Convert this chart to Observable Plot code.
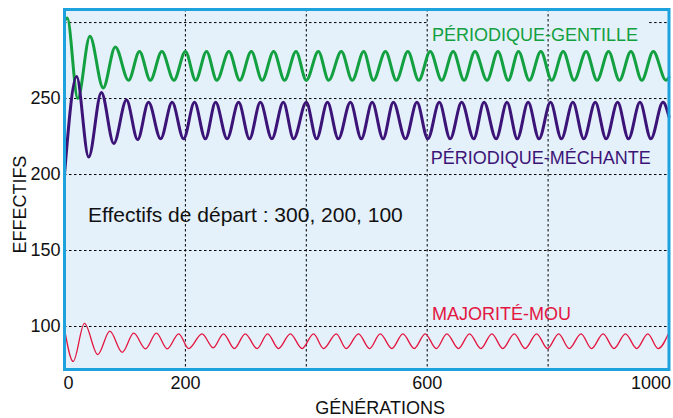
<!DOCTYPE html>
<html>
<head>
<meta charset="utf-8">
<script src="https://cdn.jsdelivr.net/npm/d3@7"></script>
<script src="https://cdn.jsdelivr.net/npm/@observablehq/plot@0.6"></script>
<style>
  html, body { margin: 0; padding: 0; background: #ffffff; }
  svg { font-family: "Liberation Sans", Arial, sans-serif; }
</style>
</head>
<body>
<div id="chart"></div>
<script>
// Extrema: [generation, effectif]
const gentille = [[0,301],[4.5,303],[22,250],[42,291],[64,257],[84,284],[106,262],[124,281],[142,262],[161,281],[181,262],[200,281],[217,262],[235,281],[252,262],[272,281],[290,262],[309,281],[327,262],[346,281],[364,262],[383,281],[400,262],[420,281],[437,262],[458,281],[476,262],[495,281],[511,262],[531,281],[549,262],[568,281],[586,262],[605,281],[624,262],[643,281],[661,262],[679,281],[699,262],[717,281],[734,262],[751,281],[769,262],[788,281],[806,262],[825,281],[843,262],[863,281],[881,262],[900,281],[918,262],[937,281],[955,262],[974,281],[995,262],[1000,264]];
const mechante = [[0,200],[20,264.5],[40,211.5],[61,254],[81.5,220.5],[102.5,249],[121,223],[139,247.5],[159,223.5],[178,247.5],[197,223.5],[215,247.5],[233,223.5],[250,247.5],[269,223.5],[288,247.5],[306,223.5],[324,247.5],[343,223.5],[362,247.5],[379,223.5],[400,247.5],[417,223.5],[435,247.5],[453,223.5],[473,247.5],[491,223.5],[509,247.5],[527,223.5],[544,247.5],[564,223.5],[583,247.5],[601,223.5],[620,247.5],[638,223.5],[657,247.5],[677,223.5],[694,247.5],[714,223.5],[732,247.5],[749,223.5],[767,247.5],[785,223.5],[804,247.5],[822,223.5],[841,247.5],[859,223.5],[878,247.5],[896,223.5],[915,247.5],[933,223.5],[952,247.5],[970,223.5],[990,247.5],[1000,238]];
const mou = [[0,98.5],[14.4,77],[33,102],[55,81.5],[75,97],[95.5,83],[114.5,95.6],[134,85.3],[152,95.6],[170,85.3],[189,95.2],[205.5,85.5],[227.5,95.2],[246,86],[263,95.2],[281,85.5],[299,95.2],[318.5,85.5],[336,95.2],[354,85.5],[373.6,95.2],[393,85.5],[412,95.2],[428.6,85.5],[449.6,95.2],[466,85.5],[486.4,95.2],[504.6,85.5],[522.3,95.2],[541.6,85.5],[559.8,95.2],[578.5,85.5],[596.7,95.2],[615,85.5],[632.5,95.2],[651.7,85.5],[670,95.2],[688.8,85.5],[707,95.2],[725,85.5],[744,95.2],[762,85.5],[781,95.2],[799,85.5],[817.5,95.2],[835,85.5],[854.5,95.2],[872,85.5],[891,95.2],[909,85.5],[928,95.2],[946.6,85.5],[965,95.2],[982,85.5],[1000,96]];

const seriesNames = ["PÉRIODIQUE-GENTILLE", "PÉRIODIQUE-MÉCHANTE", "MAJORITÉ-MOU"];
const yTicks = [100, 150, 200, 250];
const yGrid = [100, 150, 200, 250];
const yTopGrid = [300];
const xGrid = [200, 400, 600, 800];
const xTickStart = [0];
const xTickMiddle = [200, 600];
const xTickEnd = [1000];
const note = "Effectifs de départ : 300, 200, 100";
const xTitle = "GÉNÉRATIONS";
const yTitle = "EFFECTIFS";

const GREEN = "#12a040", PURPLE = "#3c1478", RED = "#e3163f";
const FRAME = "#1ea2de", BG = "#e4f0fa";

const toRows = arr => arr.map(([g, v]) => ({g, v}));
const fmt = d => String(d);
const grid = {stroke: "#000", strokeOpacity: 1, strokeDasharray: "2.5,2.5", strokeWidth: 1};

const chart = Plot.plot({
  width: 673,
  height: 418,
  marginLeft: 64,
  marginRight: 4.5,
  marginTop: 9,
  marginBottom: 49,
  x: {domain: [0, 1000]},
  y: {domain: [71.7, 308.6]},
  style: {fontFamily: '"Liberation Sans", Arial, sans-serif', background: "white"},
  marks: [
    Plot.frame({fill: BG, stroke: null}),
    Plot.gridY(yGrid, grid),
    Plot.ruleY(yTopGrid, {...grid, x1: 0, x2: 600}),
    Plot.ruleY(yTopGrid, {...grid, x1: 968, x2: 1000}),
    Plot.gridX(xGrid, grid),
    Plot.line(toRows(gentille), {x: "g", y: "v", stroke: GREEN, strokeWidth: 3, curve: "monotone-x"}),
    Plot.line(toRows(mechante), {x: "g", y: "v", stroke: PURPLE, strokeWidth: 3, curve: "monotone-x"}),
    Plot.line(toRows(mou), {x: "g", y: "v", stroke: RED, strokeWidth: 1.3, curve: "monotone-x"}),
    Plot.frame({stroke: FRAME, strokeWidth: 3, fill: null}),
    Plot.axisY(yTicks, {tickSize: 0, tickPadding: 4, fontSize: 18, color: "#111", label: null, tickFormat: fmt}),
    Plot.axisX(xTickStart, {tickSize: 0, tickPadding: 7, fontSize: 18, color: "#111", label: null, textAnchor: "start", dx: -1, tickFormat: fmt}),
    Plot.axisX(xTickMiddle, {tickSize: 0, tickPadding: 7, fontSize: 18, color: "#111", label: null, tickFormat: fmt}),
    Plot.axisX(xTickEnd, {tickSize: 0, tickPadding: 7, fontSize: 18, color: "#111", label: null, textAnchor: "end", dx: 2, tickFormat: fmt}),
    Plot.text([seriesNames[0]], {x: 608, y: 288.2, text: d => d, fill: GREEN, fontSize: 18, textAnchor: "start", lineAnchor: "bottom"}),
    Plot.text([seriesNames[1]], {x: 605.8, y: 207.0, text: d => d, fill: PURPLE, fontSize: 18, textAnchor: "start", lineAnchor: "bottom"}),
    Plot.text([seriesNames[2]], {x: 608, y: 104.6, text: d => d, fill: RED, fontSize: 18, textAnchor: "start", lineAnchor: "bottom"}),
    Plot.text([note], {x: 38.8, y: 168.6, text: d => d, fill: "#111", fontSize: 21, textAnchor: "start", lineAnchor: "bottom"}),
    Plot.text([xTitle], {x: 522, y: 42.7, text: d => d, fill: "#111", fontSize: 18, textAnchor: "middle", lineAnchor: "bottom", clip: false}),
    Plot.text([yTitle], {x: -74, y: 180.2, text: d => d, fill: "#111", fontSize: 18, textAnchor: "middle", lineAnchor: "middle", rotate: -90, clip: false})
  ]
});
document.getElementById("chart").appendChild(chart);
</script>
</body>
</html>
